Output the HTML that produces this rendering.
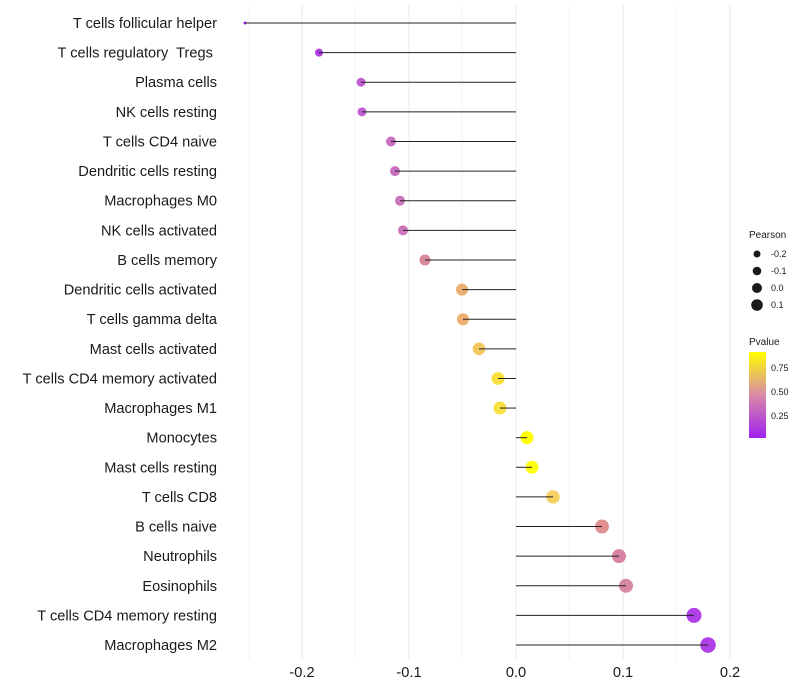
<!DOCTYPE html>
<html><head><meta charset="utf-8"><style>body{margin:0;background:#fff}svg{display:block;font-family:"Liberation Sans",sans-serif}text{white-space:pre}</style></head><body>
<svg width="800" height="700" viewBox="0 0 800 700">
<g stroke="#ebebeb" stroke-width="0.6">
<line x1="249" y1="5" x2="249" y2="660"/><line x1="355" y1="5" x2="355" y2="660"/><line x1="462" y1="5" x2="462" y2="660"/><line x1="569" y1="5" x2="569" y2="660"/><line x1="676" y1="5" x2="676" y2="660"/>
</g>
<g stroke="#ebebeb" stroke-width="1.1">
<line x1="302" y1="5" x2="302" y2="660"/><line x1="409" y1="5" x2="409" y2="660"/><line x1="516" y1="5" x2="516" y2="660"/><line x1="623" y1="5" x2="623" y2="660"/><line x1="730" y1="5" x2="730" y2="660"/>
</g>
<g id="pts"></g>
<g font-size="14.6" fill="#1a1a1a" text-anchor="end" id="labs"></g>
<g font-size="14.6" fill="#1a1a1a" text-anchor="middle">
<text x="302" y="677">-0.2</text><text x="409" y="677">-0.1</text><text x="516" y="677">0.0</text><text x="623" y="677">0.1</text><text x="730" y="677">0.2</text>
</g>
<g font-size="9" fill="#1a1a1a">
<text x="749" y="238" font-size="10">Pearson</text>
<circle cx="757" cy="254" r="3.5"/><text x="771" y="257">-0.2</text>
<circle cx="757" cy="271" r="4.3"/><text x="771" y="274">-0.1</text>
<circle cx="757" cy="288" r="5"/><text x="771" y="291">0.0</text>
<circle cx="757" cy="305" r="5.8"/><text x="771" y="308">0.1</text>
<text x="749" y="345" font-size="10">Pvalue</text>
<defs><linearGradient id="g" x1="0" y1="1" x2="0" y2="0"><stop offset="0" stop-color="#a020f0"/><stop offset="0.5" stop-color="#d98aa8"/><stop offset="1" stop-color="#ffff00"/></linearGradient></defs>
<rect x="749" y="352" width="17" height="86" fill="url(#g)"/>
<text x="771" y="371">0.75</text><text x="771" y="395">0.50</text><text x="771" y="419">0.25</text>
</g>
<script>
var d=[["T cells follicular helper",245,1.5,"#a020f0"],["T cells regulatory  Tregs ",319,4,"#b040e0"],["Plasma cells",361,4.5,"#c060d0"],["NK cells resting",362,4.5,"#c060d0"],["T cells CD4 naive",391,5,"#c870c0"],["Dendritic cells resting",395,5,"#c870c0"],["Macrophages M0",400,5,"#cc74bc"],["NK cells activated",403,5,"#cc74bc"],["B cells memory",425,5.5,"#d88a9c"],["Dendritic cells activated",462,6,"#eeb070"],["T cells gamma delta",463,6,"#eeb070"],["Mast cells activated",479,6.3,"#f4c860"],["T cells CD4 memory activated",498,6.5,"#f8e040"],["Macrophages M1",500,6.5,"#f8e040"],["Monocytes",527,6.5,"#ffff00"],["Mast cells resting",532,6.5,"#ffff10"],["T cells CD8",553,6.7,"#f6d060"],["B cells naive",602,7,"#e09090"],["Neutrophils",619,7,"#d884a4"],["Eosinophils",626,7,"#d888a4"],["T cells CD4 memory resting",694,7.5,"#b040e8"],["Macrophages M2",708,7.8,"#b040e8"]];
var P=document.getElementById("pts"),L=document.getElementById("labs"),ns="http://www.w3.org/2000/svg";
d.forEach(function(r,i){var y=23+i*29.62;
var c=document.createElementNS(ns,"circle");c.setAttribute("cx",r[1]);c.setAttribute("cy",y);c.setAttribute("r",r[2]);c.setAttribute("fill",r[3]);P.appendChild(c);
var l=document.createElementNS(ns,"line");l.setAttribute("x1",516);l.setAttribute("x2",r[1]);l.setAttribute("y1",y);l.setAttribute("y2",y);l.setAttribute("stroke","#222");l.setAttribute("stroke-width","1");P.appendChild(l);
var t=document.createElementNS(ns,"text");t.setAttribute("x",217);t.setAttribute("y",y+5);t.textContent=r[0];L.appendChild(t);});
</script>
</svg>
</body></html>
